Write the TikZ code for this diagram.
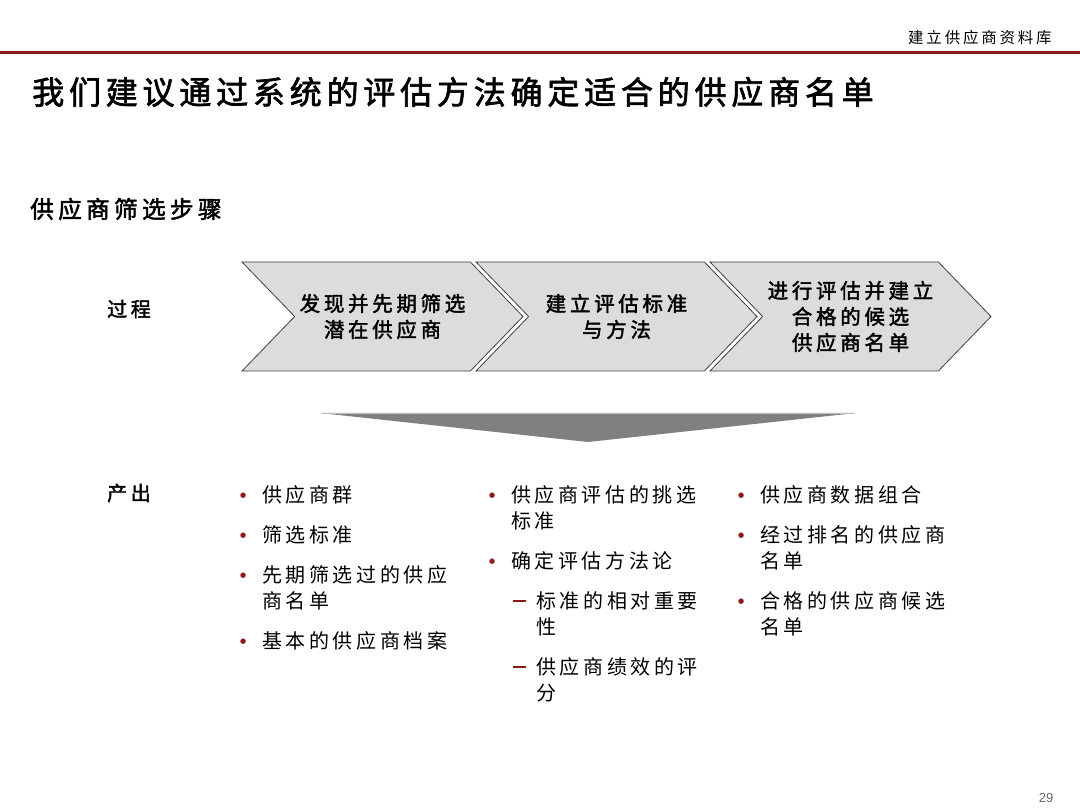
\documentclass[tikz,border=0pt]{standalone}
\usepackage{fontspec}
\usepackage{xcolor}
\usetikzlibrary{shapes.symbols, positioning}

\newfontfamily\cjk{Noto Sans CJK SC}[LetterSpace=18]
\newfontfamily\cjkbf{Noto Sans CJK SC}[LetterSpace=18, FakeBold=2]
\newfontfamily\cjktitle{Noto Sans CJK SC}[LetterSpace=15, FakeBold=2]
\newfontfamily\symfont{DejaVu Sans}
\newfontfamily\numfont{Liberation Sans}

\definecolor{brandred}{RGB}{140,26,26}
\definecolor{chevgray}{RGB}{220,220,220}

% bullet item and dash sub-item with hanging lines
\newcommand{\outitem}[1]{\noindent\makebox[22pt][l]{\raisebox{5pt}{\textcolor{brandred}{\symfont\fontsize{7}{7}\selectfont ●}}}%
    \parbox[t]{200pt}{\strut#1\strut}\par\prevdepth=\dp\strutbox}
\newcommand{\outsub}[1]{\noindent\hspace*{24pt}\makebox[23pt][l]{\textcolor{brandred}{\rule[6.8pt]{13pt}{1.8pt}}}%
    \parbox[t]{180pt}{\strut#1\strut}\par\prevdepth=\dp\strutbox}

\begin{document}
\begin{tikzpicture}[
    x=1pt, y=-1pt,
    chevron/.style={
        signal,
        signal to=east,
        signal from=west,
        signal pointer angle=92,
        draw=black!75,
        fill=chevgray,
        line width=0.8pt,
        minimum width=281pt,
        minimum height=109pt,
        inner sep=0pt,
        align=center,
        font=\cjkbf\fontsize{20.5}{26}\selectfont
    },
    label/.style={
        anchor=west,
        inner sep=0pt,
        font=\cjkbf\fontsize{20}{26}\selectfont
    },
    column/.style={
        anchor=north west,
        inner sep=0pt,
        text width=230pt,
        font=\cjk\fontsize{20}{26}\selectfont
    }
]
\useasboundingbox (0,0) rectangle (1080,810);

% header
\node[anchor=west, inner sep=0pt, font=\cjk\fontsize{15.5}{16}\selectfont] (section) at (908,38) {建立供应商资料库};
\draw[brandred, line width=3pt] (0,53) -- (1080,53);

\node[anchor=west, inner sep=0pt, font=\cjktitle\fontsize{32}{33}\selectfont] (title) at (32,92) {我们建议通过系统的评估方法确定适合的供应商名单};
\node[anchor=west, inner sep=0pt, font=\cjkbf\fontsize{23.7}{24}\selectfont] (steps) at (30,209) {供应商筛选步骤};

% process
\node[label] (process) at (107,309) {过程};

\node[chevron] (discover) at (382.5,316.5) {发现并先期筛选\\潜在供应商};
\node[chevron] (criteria) at (616.5,316.5) {建立评估标准\\与方法};
\node[chevron] (shortlist) at (850.5,316.5) {进行评估并建立\\合格的候选\\供应商名单};

\fill[black!50] (320,413) -- (856,413) -- (588,442) -- cycle;
\draw[black!25, line width=0.8pt] (322,413) -- (854,413);

% outputs
\node[label] (output) at (107,493) {产出};

\node[column] (outA) at (240,484) {\setlength{\parskip}{14pt}%
    \outitem{供应商群}
    \outitem{筛选标准}
    \outitem{先期筛选过的供应\\商名单}
    \outitem{基本的供应商档案}
};
\node[column] (outB) at (489,484) {\setlength{\parskip}{14pt}%
    \outitem{供应商评估的挑选\\标准}
    \outitem{确定评估方法论}
    \outsub{标准的相对重要\\性}
    \outsub{供应商绩效的评\\分}
};
\node[column] (outC) at (738,484) {\setlength{\parskip}{14pt}%
    \outitem{供应商数据组合}
    \outitem{经过排名的供应商\\名单}
    \outitem{合格的供应商候选\\名单}
};

\node[font=\numfont\fontsize{13}{13}\selectfont, text=black!60] (pagenum) at (1046,798) {29};

\end{tikzpicture}
\end{document}
